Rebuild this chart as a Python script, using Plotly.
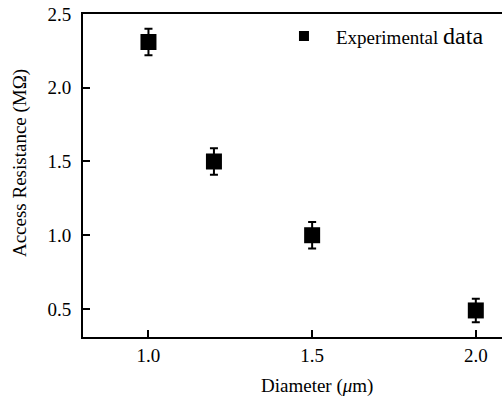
import plotly.graph_objects as go

diameter = [1.0, 1.2, 1.5, 2.0]
resistance = [2.31, 1.50, 1.00, 0.49]
error = [0.09, 0.09, 0.09, 0.08]
x_ticks = [1.0, 1.5, 2.0]
x_tick_labels = ["1.0", "1.5", "2.0"]
y_ticks = [0.5, 1.0, 1.5, 2.0, 2.5]
y_tick_labels = ["0.5", "1.0", "1.5", "2.0", "2.5"]

font = "Liberation Serif, Times New Roman, serif"

fig = go.Figure()
fig.add_trace(go.Scatter(
    x=diameter, y=resistance, mode="markers", showlegend=False,
    marker=dict(symbol="square", size=16, color="black"),
    error_y=dict(type="data", array=error, color="black", thickness=2, width=4),
))
# legend entry (smaller symbol as in the reference)
fig.add_trace(go.Scatter(
    x=[None], y=[None], mode="markers",
    name="Experimental <span style='font-size:24px'>data</span>",
    marker=dict(symbol="square", size=10, color="black"),
))

fig.update_layout(
    width=502, height=406,
    margin=dict(l=83, r=0, t=14, b=69),
    paper_bgcolor="white", plot_bgcolor="white",
    font=dict(family=font, size=19, color="black"),
    showlegend=True,
    legend=dict(x=0.451, y=0.99, xanchor="left", yanchor="top", itemwidth=54,
                bgcolor="rgba(0,0,0,0)", font=dict(family=font, size=19, color="black")),
    xaxis=dict(range=[0.8, 2.08], tickvals=x_ticks, ticktext=x_tick_labels,
               ticks="inside", ticklen=7, tickwidth=2, tickcolor="black",
               showline=True, linecolor="black", linewidth=2, mirror=True,
               showgrid=False, zeroline=False, automargin=False,
               ticklabelstandoff=0, ticklabeloverflow="allow",
               tickfont=dict(family=font, size=19)),
    yaxis=dict(range=[0.31, 2.5], tickvals=y_ticks, ticktext=y_tick_labels,
               ticks="inside", ticklen=7, tickwidth=2, tickcolor="black",
               showline=True, linecolor="black", linewidth=2, mirror=False,
               showgrid=False, zeroline=False, automargin=False,
               ticklabelstandoff=6, ticklabeloverflow="allow",
               tickfont=dict(family=font, size=19)),
    annotations=[
        dict(text="Diameter (<i>μ</i>m)", xref="paper", yref="paper",
             x=0.558, y=-0.152, xanchor="center", yanchor="middle",
             showarrow=False, font=dict(family=font, size=19)),
        dict(text="Access Resistance (MΩ)", xref="paper", yref="paper",
             x=-0.150, y=0.539, xanchor="center", yanchor="middle", textangle=-90,
             showarrow=False, font=dict(family=font, size=19)),
    ],
)

# remove the default 8px page margin so the figure fills the window exactly
fig.write_html("out.html",
               config={"displayModeBar": False},
               post_script="document.body.style.margin='0';document.body.style.overflow='hidden';")
